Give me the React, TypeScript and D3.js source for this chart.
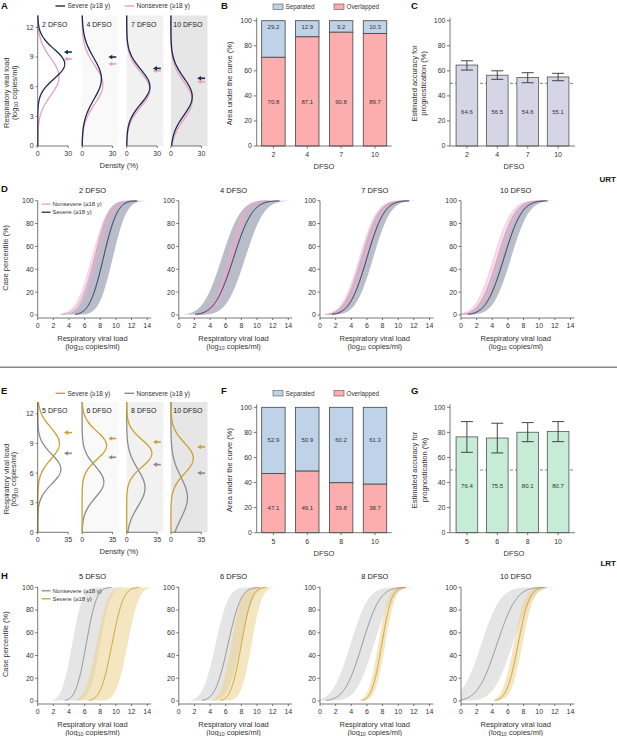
import * as d3 from "d3";

const FONT = '"Liberation Sans", Arial, Helvetica, sans-serif';
const INK = "#333";

// days since symptom onset
const urtDays = ["2", "4", "7", "10"];
const lrtDays = ["5", "6", "8", "10"];

// A: fitted density curves, URT (mean / sd in log10 copies/ml) + arrow marks
const urtSevereMean = [8.3, 6.8, 6.0, 5.0];
const urtSevereSd = [1.5, 2.1, 1.75, 1.9];
const urtNonsevereMean = [7.0, 6.2, 5.7, 4.6];
const urtNonsevereSd = [1.9, 1.95, 1.75, 1.9];
const urtSevereArrow = [9.5, 9.0, 7.85, 6.85];
const urtNonsevereArrow = [8.8, 8.3, 7.6, 6.5];

// B: area under the curve (%)
const urtSeparated = [29.2, 12.9, 9.2, 10.3];
const urtOverlapped = [70.8, 87.1, 90.8, 89.7];

// C: estimated accuracy (%)
const urtAccuracy = [64.6, 56.5, 54.6, 55.1];
const urtAccLow = [60.6, 53.2, 50.5, 52.1];
const urtAccHigh = [68.0, 60.0, 58.5, 58.0];

// D: case percentile curves (mean / sd / half width of band)
const urtCdfSevereMean = [8.4, 7.0, 6.0, 5.5];
const urtCdfSevereSd = [1.4, 1.9, 1.75, 1.8];
const urtCdfSevereBand = [1.2, 1.5, 0.8, 0.9];
const urtCdfNonsevereMean = [7.3, 6.6, 5.5, 4.7];
const urtCdfNonsevereSd = [1.6, 1.5, 1.75, 1.8];
const urtCdfNonsevereBand = [0.35, 0.35, 0.45, 0.5];

// E: fitted density curves, LRT
const lrtSevereMean = [9.0, 8.8, 8.0, 7.5];
const lrtSevereSd = [1.6, 1.42, 1.38, 1.55];
const lrtNonsevereMean = [6.4, 5.1, 4.5, 3.5];
const lrtNonsevereSd = [1.5, 1.6, 1.9, 2.1];
const lrtSevereArrow = [10.1, 9.5, 9.15, 8.65];
const lrtNonsevereArrow = [8.0, 7.6, 6.86, 6.0];

// F
const lrtSeparated = [52.9, 50.9, 60.2, 61.3];
const lrtOverlapped = [47.1, 49.1, 39.8, 38.7];

// G
const lrtAccuracy = [76.4, 75.5, 80.1, 80.7];
const lrtAccLow = [64.1, 63.6, 72.6, 72.6];
const lrtAccHigh = [88.6, 87.3, 87.8, 88.6];

// H
const lrtCdfSevereMean = [9.5, 8.0, 7.9, 7.3];
const lrtCdfSevereSd = [1.15, 1.05, 1.0, 1.15];
const lrtCdfSevereBand = [2.0, 1.3, 0.45, 0.55];
const lrtCdfNonsevereMean = [6.2, 6.3, 5.4, 4.6];
const lrtCdfNonsevereSd = [1.05, 1.3, 1.8, 1.95];
const lrtCdfNonsevereBand = [1.8, 1.6, 1.5, 2.0];

const NAVY = "#1d2a4d";
const PINK = "#e79fc3";
const GOLD = "#c9a12e";
const GREY = "#8c8c8c";

function erf(x: number) {
    const t = 1 / (1 + 0.3275911 * Math.abs(x));
    const y = 1 - (((((1.061405429 * t - 1.453152027) * t) + 1.421413741) * t - 0.284496736) * t + 0.254829592) * t * Math.exp(-x * x);
    return x >= 0 ? y : -y;
}
const cdf = (x: number, m: number, s: number) => 0.5 * (1 + erf((x - m) / (s * Math.SQRT2)));
const pdf = (x: number, m: number, s: number) => Math.exp(-0.5 * ((x - m) / s) ** 2) / (s * Math.sqrt(2 * Math.PI));

function Log10Label({ x, y, anchor = "middle", rotate = false, size = 7 }: { x: number, y: number, anchor?: string, rotate?: boolean, size?: number }) {
    return (
        <text x={x} y={y} textAnchor={anchor} fontSize={size} fill={INK}
            transform={rotate ? `rotate(-90,${x},${y})` : undefined}>
            (log<tspan fontSize={size * 0.7} dy={1.5}>10</tspan><tspan dy={-1.5}> copies/ml)</tspan>
        </text>
    );
}

type Dist = { mean: number[], sd: number[], arrow: number[], color: string };

function DensityRow({ days, dists, maxD, bottom, top, tickMax }: { days: string[], dists: Dist[], maxD: number, bottom: number, top: number, tickMax: string }) {
    const y = d3.scaleLinear().domain([0, 13.2]).range([bottom, top]);
    const loads = d3.range(0, 13.2001, 0.05);
    const x0s = [37.7, 82.1, 126.7, 170.9];
    const w = 30.5;
    const shades = ["none", "#f9f9f9", "#f1f1f1", "#e6e6e6"];
    return (
        <g>
            {days.map((d, i) => {
                const x = d3.scaleLinear().domain([0, maxD]).range([x0s[i], x0s[i] + w]);
                return i > 0 ? <rect key={d} x={x(0)} y={y(13.2)} width={x(maxD * 1.2) - x(0)} height={y(0) - y(13.2)} fill={shades[i]} /> : null;
            })}
            {days.map((d, i) => {
                const x = d3.scaleLinear().domain([0, maxD]).range([x0s[i], x0s[i] + w]);
                return (
                    <g key={d}>
                        {dists.map((s, k) => {
                            const line = d3.line<number>()
                                .x(v => x(100 * pdf(v, s.mean[i], s.sd[i])))
                                .y(v => y(v));
                            const ay = y(s.arrow[i]);
                            const tip = x(maxD * 0.86);
                            const tail = x(maxD * 1.12);
                            return (
                                <g key={k}>
                                    <path d={line(loads)!} fill="none" stroke={s.color} strokeWidth={1.3} />
                                    <line x1={tip + 3} x2={tail} y1={ay} y2={ay} stroke={s.color} strokeWidth={1.6} />
                                    <path d={`M${tip},${ay}L${tip + 4},${ay - 2.3}L${tip + 4},${ay + 2.3}Z`} fill={s.color} />
                                </g>
                            );
                        })}
                        <line x1={x(0)} x2={x(maxD)} y1={y(0)} y2={y(0)} stroke="#555" strokeWidth={0.8} />
                        {[0, maxD].map(t => (
                            <g key={t}>
                                <line x1={x(t)} x2={x(t)} y1={y(0)} y2={y(0) + 2} stroke="#555" strokeWidth={0.8} />
                                <text x={x(t)} y={y(0) + 10} textAnchor="middle" fontSize={7} fill={INK}>{t === 0 ? "0" : tickMax}</text>
                            </g>
                        ))}
                        <text x={x0s[i] + 17} y={top + 11} textAnchor="middle" fontSize={7} fill="#222">{d} DFSO</text>
                    </g>
                );
            })}
            <line x1={x0s[0]} x2={x0s[0]} y1={y(0)} y2={y(13.2)} stroke="#555" strokeWidth={0.8} />
            {[0, 3, 6, 9, 12].map(t => (
                <g key={t}>
                    <line x1={x0s[0] - 2} x2={x0s[0]} y1={y(t)} y2={y(t)} stroke="#555" strokeWidth={0.8} />
                    <text x={x0s[0] - 4} y={y(t)} dy="0.35em" textAnchor="end" fontSize={7} fill={INK}>{t}</text>
                </g>
            ))}
            <text x={119} y={bottom + 22} textAnchor="middle" fontSize={7.5} fill={INK}>Density (%)</text>
            <text x={9} y={(bottom + top) / 2 + 12} textAnchor="middle" fontSize={7.5} fill={INK}
                transform={`rotate(-90,9,${(bottom + top) / 2 + 12})`}>Respiratory viral load</text>
            <Log10Label x={16.5} y={(bottom + top) / 2 + 12} rotate size={7.5} />
        </g>
    );
}

function StackedPanel({ days, sep, over, bottom, top, sepLabel, ovLabel }: { days: string[], sep: number[], over: number[], bottom: number, top: number, sepLabel: number, ovLabel: number }) {
    const x = d3.scaleBand().domain(days).range([256.7, 391.7]).paddingInner(0.307).paddingOuter(0.147);
    const y = d3.scaleLinear().domain([0, 100]).range([bottom, top]);
    const ly = top - 14;
    return (
        <g>
            {days.map((d, i) => (
                <g key={d}>
                    <rect x={x(d)} y={y(100)} width={x.bandwidth()} height={y(over[i]) - y(100)} fill="#bed2e8" stroke="#444" strokeWidth={0.8} />
                    <rect x={x(d)} y={y(over[i])} width={x.bandwidth()} height={y(0) - y(over[i])} fill="#fcadad" stroke="#444" strokeWidth={0.8} />
                    <text x={x(d)! + x.bandwidth() / 2} y={y(sepLabel)} dy="0.35em" textAnchor="middle" fontSize={6} fill={INK}>{sep[i].toFixed(1)}</text>
                    <text x={x(d)! + x.bandwidth() / 2} y={y(ovLabel)} dy="0.35em" textAnchor="middle" fontSize={6} fill={INK}>{over[i].toFixed(1)}</text>
                    <line x1={x(d)! + x.bandwidth() / 2} x2={x(d)! + x.bandwidth() / 2} y1={y(0)} y2={y(0) + 2.5} stroke="#555" strokeWidth={0.8} />
                    <text x={x(d)! + x.bandwidth() / 2} y={y(0) + 11} textAnchor="middle" fontSize={7} fill={INK}>{d}</text>
                </g>
            ))}
            <line x1={256.7} x2={391.7} y1={y(0)} y2={y(0)} stroke="#555" strokeWidth={0.8} />
            <line x1={256.7} x2={256.7} y1={y(0)} y2={y(100) - 3} stroke="#555" strokeWidth={0.8} />
            {d3.range(0, 101, 20).map(t => (
                <g key={t}>
                    <line x1={253.7} x2={256.7} y1={y(t)} y2={y(t)} stroke="#555" strokeWidth={0.8} />
                    <text x={252} y={y(t)} dy="0.35em" textAnchor="end" fontSize={7} fill={INK}>{t}</text>
                </g>
            ))}
            <text x={324} y={y(0) + 23} textAnchor="middle" fontSize={7.5} fill={INK}>DFSO</text>
            <text x={232} y={(y(0) + y(100)) / 2} textAnchor="middle" fontSize={7.5} fill={INK}
                transform={`rotate(-90,232,${(y(0) + y(100)) / 2})`}>Area under the curve (%)</text>
            <rect x={273} y={ly - 2.7} width={10} height={5.4} fill="#bed2e8" stroke="#555" strokeWidth={0.6} />
            <text x={285.5} y={ly} dy="0.35em" fontSize={6.3} fill={INK}>Separated</text>
            <rect x={334} y={ly - 2.7} width={10} height={5.4} fill="#fcadad" stroke="#555" strokeWidth={0.6} />
            <text x={346.5} y={ly} dy="0.35em" fontSize={6.3} fill={INK}>Overlapped</text>
        </g>
    );
}

function AccuracyPanel({ days, acc, low, high, bottom, top, fill, label }: { days: string[], acc: number[], low: number[], high: number[], bottom: number, top: number, fill: string, label: number }) {
    const x = d3.scaleBand().domain(days).range([450, 575]).paddingInner(0.289).paddingOuter(0.2);
    const y = d3.scaleLinear().domain([0, 100]).range([bottom, top]);
    const mid = (y(0) + y(100)) / 2;
    return (
        <g>
            <line x1={450} x2={575} y1={y(50)} y2={y(50)} stroke="#666" strokeWidth={0.8} strokeDasharray="3,2" />
            {days.map((d, i) => {
                const cx = x(d)! + x.bandwidth() / 2;
                return (
                    <g key={d}>
                        <rect x={x(d)} y={y(acc[i])} width={x.bandwidth()} height={y(0) - y(acc[i])} fill={fill} stroke="#555" strokeWidth={0.8} />
                        <line x1={cx} x2={cx} y1={y(low[i])} y2={y(high[i])} stroke="#333" strokeWidth={0.9} />
                        <line x1={cx - 6} x2={cx + 6} y1={y(low[i])} y2={y(low[i])} stroke="#333" strokeWidth={0.9} />
                        <line x1={cx - 6} x2={cx + 6} y1={y(high[i])} y2={y(high[i])} stroke="#333" strokeWidth={0.9} />
                        <text x={cx} y={y(label)} dy="0.35em" textAnchor="middle" fontSize={6} fill={INK}>{acc[i].toFixed(1)}</text>
                        <line x1={cx} x2={cx} y1={y(0)} y2={y(0) + 2.5} stroke="#555" strokeWidth={0.8} />
                        <text x={cx} y={y(0) + 11} textAnchor="middle" fontSize={7} fill={INK}>{d}</text>
                    </g>
                );
            })}
            <line x1={450} x2={575} y1={y(0)} y2={y(0)} stroke="#555" strokeWidth={0.8} />
            <line x1={450} x2={450} y1={y(0)} y2={y(100) - 3} stroke="#555" strokeWidth={0.8} />
            {d3.range(0, 101, 20).map(t => (
                <g key={t}>
                    <line x1={447} x2={450} y1={y(t)} y2={y(t)} stroke="#555" strokeWidth={0.8} />
                    <text x={445.5} y={y(t)} dy="0.35em" textAnchor="end" fontSize={7} fill={INK}>{t}</text>
                </g>
            ))}
            <text x={514} y={y(0) + 23} textAnchor="middle" fontSize={7.5} fill={INK}>DFSO</text>
            <text x={417} y={mid} textAnchor="middle" fontSize={7.5} fill={INK} transform={`rotate(-90,417,${mid})`}>Estimated accuracy for</text>
            <text x={426.5} y={mid} textAnchor="middle" fontSize={7.5} fill={INK} transform={`rotate(-90,426.5,${mid})`}>prognostication (%)</text>
        </g>
    );
}

type CdfSeries = { mean: number[], sd: number[], band: number[], line: string, fill: string, fillOpacity: number, bandStroke?: string, name: string };

function CdfRow({ days, bands, lines, legend, bottom, top }: { days: string[], bands: CdfSeries[], lines: CdfSeries[], legend: CdfSeries[], bottom: number, top: number }) {
    const x0s = [37.7, 178.8, 320, 461];
    const y = d3.scaleLinear().domain([0, 100]).range([bottom, top]);
    const grid = d3.range(0, 14.5001, 0.02);
    const lo = 0.005, hi = 0.999;
    return (
        <g>
            {days.map((d, i) => {
                const x = d3.scaleLinear().domain([0, 14]).range([x0s[i], x0s[i] + 109.5]);
                return (
                    <g key={d}>
                        {bands.map(s => {
                            const pts = grid
                                .map(v => ({ v, a: cdf(v, s.mean[i] + s.band[i], s.sd[i]), b: cdf(v, s.mean[i] - s.band[i], s.sd[i]) }))
                                .filter(p => p.b >= lo && p.a <= hi);
                            const area = d3.area<{ v: number, a: number, b: number }>()
                                .x(p => x(p.v))
                                .y0(p => y(100 * Math.max(p.a, lo)))
                                .y1(p => y(100 * Math.min(p.b, hi)));
                            return <path key={s.name} d={area(pts)!} fill={s.fill} fillOpacity={s.fillOpacity}
                                stroke={s.bandStroke ?? "none"} strokeWidth={0.5} strokeOpacity={0.8} />;
                        })}
                        {lines.map(s => {
                            const pts = grid.map(v => ({ v, p: cdf(v, s.mean[i], s.sd[i]) })).filter(p => p.p >= lo && p.p <= hi);
                            const line = d3.line<{ v: number, p: number }>().x(p => x(p.v)).y(p => y(100 * p.p));
                            return <path key={s.name} d={line(pts)!} fill="none" stroke={s.line} strokeWidth={1} />;
                        })}
                        <line x1={x(0)} x2={x(14.5)} y1={y(0) + 3} y2={y(0) + 3} stroke="#555" strokeWidth={0.8} />
                        {d3.range(0, 15, 2).map(t => (
                            <g key={t}>
                                <line x1={x(t)} x2={x(t)} y1={y(0) + 3} y2={y(0) + 5} stroke="#555" strokeWidth={0.8} />
                                <text x={x(t)} y={y(0) + 12.5} textAnchor="middle" fontSize={7} fill={INK}>{t}</text>
                            </g>
                        ))}
                        <line x1={x(0)} x2={x(0)} y1={y(0) + 3} y2={y(100)} stroke="#555" strokeWidth={0.8} />
                        {d3.range(0, 101, 20).map(t => (
                            <g key={t}>
                                <line x1={x(0) - 2.5} x2={x(0)} y1={y(t)} y2={y(t)} stroke="#555" strokeWidth={0.8} />
                                <text x={x(0) - 4} y={y(t)} dy="0.35em" textAnchor="end" fontSize={7} fill={INK}>{t}</text>
                            </g>
                        ))}
                        <text x={x(7)} y={top - 8} textAnchor="middle" fontSize={7.5} fill="#222">{d} DFSO</text>
                        <text x={x(7)} y={y(0) + 26} textAnchor="middle" fontSize={7.5} fill={INK}>Respiratory viral load</text>
                        <Log10Label x={x(7)} y={y(0) + 33.5} size={7.5} />
                    </g>
                );
            })}
            {legend.map((s, k) => (
                <g key={s.name}>
                    <line x1={41.7} x2={50.5} y1={top + 3.5 + k * 8} y2={top + 3.5 + k * 8} stroke={s.line} strokeWidth={1.3} />
                    <text x={52.5} y={top + 3.5 + k * 8} dy="0.35em" fontSize={6} fill={INK}>{s.name}</text>
                </g>
            ))}
            <text x={8} y={(bottom + top) / 2} textAnchor="middle" fontSize={7.5} fill={INK}
                transform={`rotate(-90,8,${(bottom + top) / 2})`}>Case percentile (%)</text>
        </g>
    );
}

function Legend({ y, items }: { y: number, items: { label: string, color: string, x: number }[] }) {
    return (
        <g>
            {items.map(it => (
                <g key={it.label}>
                    <line x1={it.x} x2={it.x + 9.5} y1={y} y2={y} stroke={it.color} strokeWidth={1.4} />
                    <text x={it.x + 12} y={y} dy="0.35em" fontSize={6.5} fill={INK}>{it.label}</text>
                </g>
            ))}
        </g>
    );
}

function Letter({ x, y, t }: { x: number, y: number, t: string }) {
    return <text x={x} y={y} fontSize={9.5} fontWeight="bold" fill="#111">{t}</text>;
}

export default function App() {
    const urtDists: Dist[] = [
        { mean: urtNonsevereMean, sd: urtNonsevereSd, arrow: urtNonsevereArrow, color: PINK },
        { mean: urtSevereMean, sd: urtSevereSd, arrow: urtSevereArrow, color: NAVY },
    ];
    const lrtDists: Dist[] = [
        { mean: lrtNonsevereMean, sd: lrtNonsevereSd, arrow: lrtNonsevereArrow, color: GREY },
        { mean: lrtSevereMean, sd: lrtSevereSd, arrow: lrtSevereArrow, color: GOLD },
    ];
    const urtSevere: CdfSeries = { mean: urtCdfSevereMean, sd: urtCdfSevereSd, band: urtCdfSevereBand, line: NAVY, fill: "#7d879c", fillOpacity: 0.55, name: "Severe (\u226518 y)" };
    const urtNonsevere: CdfSeries = { mean: urtCdfNonsevereMean, sd: urtCdfNonsevereSd, band: urtCdfNonsevereBand, line: PINK, fill: "#f0b3cf", fillOpacity: 0.45, bandStroke: PINK, name: "Nonsevere (\u226518 y)" };
    const lrtSevere: CdfSeries = { mean: lrtCdfSevereMean, sd: lrtCdfSevereSd, band: lrtCdfSevereBand, line: GOLD, fill: "#e9d28c", fillOpacity: 0.55, name: "Severe (\u226518 y)" };
    const lrtNonsevere: CdfSeries = { mean: lrtCdfNonsevereMean, sd: lrtCdfNonsevereSd, band: lrtCdfNonsevereBand, line: GREY, fill: "#d4d4d4", fillOpacity: 0.6, name: "Nonsevere (\u226518 y)" };

    return (
        <div style={{ position: "absolute", left: 0, top: 0 }}>
            <svg width={617} height={736} style={{ display: "block", fontFamily: FONT, background: "#fff" }}>
                {/* URT */}
                <Letter x={1} y={9} t="A" />
                <Legend y={6} items={[{ label: "Severe (\u226518 y)", color: NAVY, x: 55.5 }, { label: "Nonsevere (\u226518 y)", color: PINK, x: 124.5 }]} />
                <DensityRow days={urtDays} dists={urtDists} maxD={30} bottom={146} top={15.5} tickMax="30" />
                <Letter x={221} y={9} t="B" />
                <StackedPanel days={urtDays} sep={urtSeparated} over={urtOverlapped} bottom={146} top={20.7} sepLabel={95} ovLabel={35.4} />
                <Letter x={411} y={9} t="C" />
                <AccuracyPanel days={urtDays} acc={urtAccuracy} low={urtAccLow} high={urtAccHigh} bottom={146} top={20.7} fill="#d5d5e6" label={27} />
                <text x={616} y={182} textAnchor="end" fontSize={8} fontWeight="bold" fill="#111">URT</text>
                <Letter x={1} y={192} t="D" />
                <CdfRow days={urtDays} bands={[urtSevere, urtNonsevere]} lines={[urtNonsevere, urtSevere]} legend={[urtNonsevere, urtSevere]} bottom={315} top={200.7} />

                <line x1={0} x2={617} y1={367.3} y2={367.3} stroke="#888" strokeWidth={1.4} />

                {/* LRT */}
                <Letter x={1} y={394} t="E" />
                <Legend y={393.3} items={[{ label: "Severe (\u226518 y)", color: GOLD, x: 55.5 }, { label: "Nonsevere (\u226518 y)", color: GREY, x: 124.5 }]} />
                <DensityRow days={lrtDays} dists={lrtDists} maxD={35} bottom={532.3} top={402} tickMax="35" />
                <Letter x={221} y={394} t="F" />
                <StackedPanel days={lrtDays} sep={lrtSeparated} over={lrtOverlapped} bottom={532.7} top={407.3} sepLabel={74} ovLabel={20} />
                <Letter x={411} y={394} t="G" />
                <AccuracyPanel days={lrtDays} acc={lrtAccuracy} low={lrtAccLow} high={lrtAccHigh} bottom={532.7} top={407.3} fill="#c6ebd6" label={37} />
                <text x={616} y={566} textAnchor="end" fontSize={8} fontWeight="bold" fill="#111">LRT</text>
                <Letter x={1} y={579} t="H" />
                <CdfRow days={lrtDays} bands={[lrtNonsevere, lrtSevere]} lines={[lrtNonsevere, lrtSevere]} legend={[lrtNonsevere, lrtSevere]} bottom={701} top={587.3} />
            </svg>
        </div>
    );
}
